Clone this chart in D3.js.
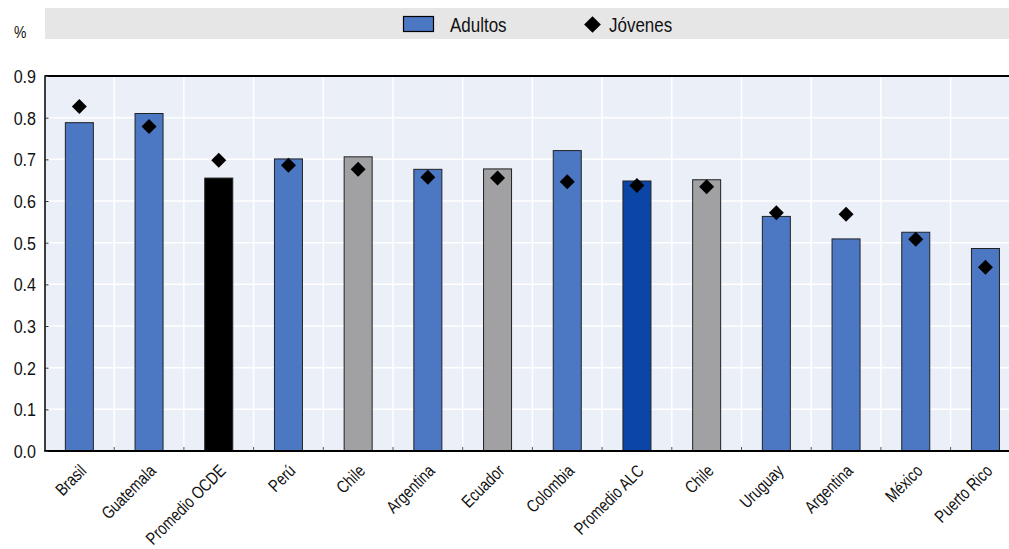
<!DOCTYPE html>
<html>
<head>
<meta charset="utf-8">
<script src="https://cdn.jsdelivr.net/npm/d3@7"></script>
<style>
  html, body { margin: 0; padding: 0; background: #fff; }
  svg { display: block; }
  text { font-family: "Liberation Sans", Arial, sans-serif; fill: #111; }
</style>
</head>
<body>
<svg id="chart" width="1009" height="549"></svg>
<script>
const categories = ["Brasil","Guatemala","Promedio OCDE","Perú","Chile","Argentina","Ecuador","Colombia","Promedio ALC","Chile","Uruguay","Argentina","México","Puerto Rico"];
const adultos = [0.788,0.810,0.655,0.701,0.706,0.676,0.677,0.721,0.648,0.651,0.563,0.509,0.525,0.486];
const jovenes = [0.827,0.779,0.698,0.686,0.676,0.657,0.655,0.646,0.637,0.634,0.572,0.568,0.508,0.441];
const barGroup = ["pais","pais","ocde","pais","gris","pais","gris","pais","alc","gris","pais","pais","pais","pais"];
const yTicks = [0,0.1,0.2,0.3,0.4,0.5,0.6,0.7,0.8,0.9];
const seriesNames = ["Adultos","Jóvenes"];

const colors = { pais: "#4b77c3", ocde: "#000000", alc: "#0b45a5", gris: "#a1a1a3" };
const sx = 0.87; // horizontal condensing of the text

const svg = d3.select("#chart");
const pLeft = 44.5, pTop = 76, pBottom = 451, band = 69.7;
const pRight = pLeft + band * categories.length;

const x = d3.scaleBand().domain(d3.range(categories.length)).range([pLeft, pRight]).paddingInner(0).paddingOuter(0);
const y = d3.scaleLinear().domain([0, 0.9]).range([pBottom, pTop]);

// legend band
svg.append("rect").attr("x", 45).attr("y", 8).attr("width", 1009 - 45).attr("height", 31).attr("fill", "#e6e6e6");
svg.append("rect").attr("x", 403.5).attr("y", 16.5).attr("width", 30).attr("height", 15)
  .attr("fill", colors.pais).attr("stroke", "#000").attr("stroke-width", 1.2);
svg.append("text").attr("transform", `translate(450,31.5) scale(${sx},1)`).attr("font-size", 19.5).text(seriesNames[0]);
svg.append("path").attr("d", d3.symbol(d3.symbolSquare, 140)()).attr("transform", "translate(592.5,24.5) rotate(45)").attr("fill", "#000");
svg.append("text").attr("transform", `translate(609,31.5) scale(${sx},1)`).attr("font-size", 19.5).text(seriesNames[1]);

// % label
svg.append("text").attr("transform", `translate(14,38) scale(${sx},1)`).attr("font-size", 16).text("%");

// plot background
svg.append("rect").attr("x", pLeft).attr("y", pTop).attr("width", pRight - pLeft).attr("height", pBottom - pTop).attr("fill", "#eaeff8");

// gridlines
svg.append("g").selectAll("line").data(yTicks.slice(1)).join("line")
  .attr("x1", pLeft).attr("x2", pRight).attr("y1", d => y(d)).attr("y2", d => y(d))
  .attr("stroke", "#fff").attr("stroke-width", 1.5);
svg.append("g").selectAll("line").data(d3.range(1, categories.length)).join("line")
  .attr("x1", d => x(d)).attr("x2", d => x(d)).attr("y1", pTop).attr("y2", pBottom)
  .attr("stroke", "#fff").attr("stroke-width", 1.5);

// bottom tick marks (inward)
svg.append("g").selectAll("line").data(d3.range(1, categories.length)).join("line")
  .attr("x1", d => x(d)).attr("x2", d => x(d)).attr("y1", pBottom - 4).attr("y2", pBottom)
  .attr("stroke", "#555").attr("stroke-width", 1);

// bars
const bw = 28;
svg.append("g").selectAll("rect").data(adultos).join("rect")
  .attr("x", (d, i) => x(i) + x.bandwidth() / 2 - bw / 2)
  .attr("y", d => y(d))
  .attr("width", bw)
  .attr("height", d => y(0) - y(d))
  .attr("fill", (d, i) => colors[barGroup[i]])
  .attr("stroke", "#222").attr("stroke-width", 1);

// diamonds
const diamond = d3.symbol(d3.symbolSquare, 112);
svg.append("g").selectAll("path").data(jovenes).join("path")
  .attr("d", diamond())
  .attr("transform", (d, i) => `translate(${x(i) + x.bandwidth() / 2},${y(d)}) rotate(45)`)
  .attr("fill", "#000");

// frame lines
svg.append("line").attr("x1", pLeft).attr("x2", pRight).attr("y1", pTop).attr("y2", pTop).attr("stroke", "#000").attr("stroke-width", 2);
svg.append("line").attr("x1", pLeft).attr("x2", pRight).attr("y1", pBottom).attr("y2", pBottom).attr("stroke", "#000").attr("stroke-width", 2);

// y axis
const yAxis = d3.axisLeft(y).tickValues(yTicks).tickFormat(d3.format(".1f")).tickSizeInner(-4).tickSizeOuter(0).tickPadding(9);
const ga = svg.append("g").attr("transform", `translate(${pLeft},0)`).call(yAxis);
ga.select(".domain").attr("stroke", "#000").attr("stroke-width", 1.5);
ga.selectAll(".tick line").attr("stroke", "#333");
ga.selectAll(".tick text").attr("font-size", 18.5).attr("font-family", null).attr("fill", "#111")
  .attr("x", null).attr("dy", "0.35em")
  .attr("transform", `translate(-8.5,0) scale(${sx},1)`);

// x labels
const xAxis = d3.axisBottom(x).tickFormat(i => categories[i]).tickSize(0).tickPadding(0);
const gx = svg.append("g").attr("transform", `translate(0,${pBottom})`).call(xAxis);
gx.select(".domain").remove();
gx.selectAll(".tick text")
  .attr("font-size", 17.5).attr("font-family", null).attr("fill", "#111")
  .attr("text-anchor", "end")
  .attr("dy", null).attr("y", 0)
  .attr("transform", `translate(8,21) rotate(-45) scale(0.8,1)`);
</script>
</body>
</html>
